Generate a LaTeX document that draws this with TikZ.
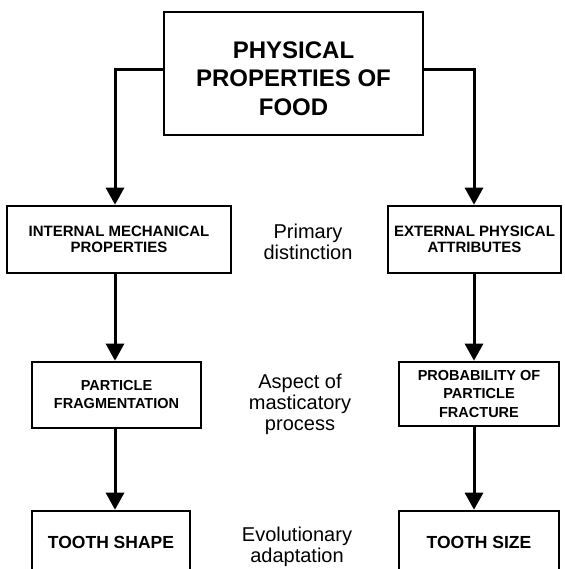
\documentclass[tikz,border=0pt]{standalone}
\usepackage{fontspec}
\setmainfont{Liberation Sans}
\usetikzlibrary{arrows.meta,calc}
\begin{document}
\begin{tikzpicture}[x=1pt,y=-1pt,
  box/.style={draw, line width=2.6pt, inner sep=0pt, align=center, font=\bfseries},
  arr/.style={line width=3pt, -{Triangle[width=18pt,length=17pt]}},
  lbl/.style={align=center, inner sep=0pt, font=\fontsize{20}{21}\selectfont}]
\useasboundingbox (0,0) rectangle (564,569);
\clip (0,0) rectangle (564,569);
\fill[white] (0,0) rectangle (564,569);
\coordinate (cl) at (115,0);
\coordinate (cr) at (474,0);
% top box
\node[box, minimum width=259pt, minimum height=123pt, text height=84pt,
  font=\fontsize{24}{28.5}\selectfont\bfseries] (top) at (293.5,73.5)
  {PHYSICAL\\PROPERTIES OF\\FOOD};
% row 2
\node[box, minimum width=224pt, minimum height=67pt,
  font=\fontsize{15}{16}\selectfont\bfseries] (r2l) at (119,239.5)
  {INTERNAL MECHANICAL\\PROPERTIES};
\node[box, minimum width=173pt, minimum height=67pt,
  font=\fontsize{15}{16}\selectfont\bfseries] (r2r) at (474.5,239.5)
  {EXTERNAL PHYSICAL\\ATTRIBUTES};
\node[lbl] (l2) at (308,242) {Primary\\distinction};
% row 3
\node[box, minimum width=169pt, minimum height=66pt,
  font=\fontsize{14.5}{18}\selectfont\bfseries] (r3l) at (116.5,395)
  {PARTICLE\\FRAGMENTATION};
\node[box, minimum width=160pt, minimum height=64pt,
  font=\fontsize{14.5}{18.5}\selectfont\bfseries] (r3r) at (479,394)
  {PROBABILITY OF\\PARTICLE\\FRACTURE};
\node[lbl] (l3) at (300,404) {Aspect of\\masticatory\\process};
% row 4
\node[box, minimum width=158pt, minimum height=62pt,
  font=\fontsize{17.5}{20}\selectfont\bfseries] (r4l) at (111,542)
  {TOOTH SHAPE};
\node[box, minimum width=160pt, minimum height=62pt,
  font=\fontsize{17.5}{20}\selectfont\bfseries] (r4r) at (479,542)
  {TOOTH SIZE};
\node[lbl] (l4) at (297,547) {Evolutionary\\adaptation};
% connectors
\draw[arr] ([yshift=3.5pt]top.west) -| (cl |- r2l.north);
\draw[arr] ([yshift=3.5pt]top.east) -| (cr |- r2r.north);
\draw[arr] (cl |- r2l.south) -- (cl |- r3l.north);
\draw[arr] (cr |- r2r.south) -- (cr |- r3r.north);
\draw[arr] (cl |- r3l.south) -- (cl |- r4l.north);
\draw[arr] (cr |- r3r.south) -- (cr |- r4r.north);
\end{tikzpicture}
\end{document}
